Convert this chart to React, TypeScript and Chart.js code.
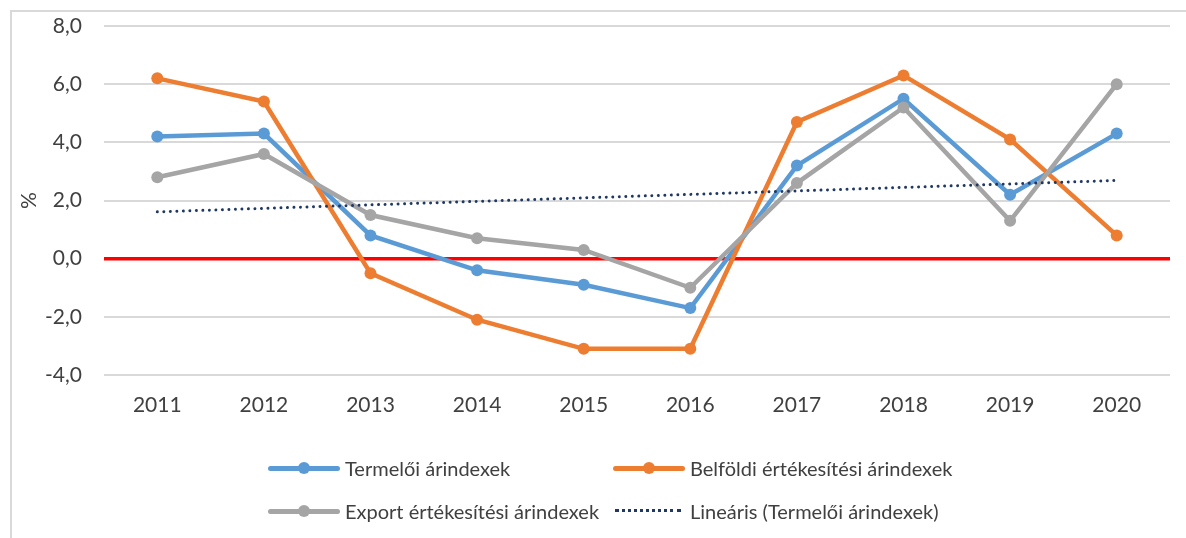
import React, { useEffect, useRef } from "react";
import { Chart, registerables } from "chart.js";

Chart.register(...registerables);

const years = ["2011", "2012", "2013", "2014", "2015", "2016", "2017", "2018", "2019", "2020"];
const termeloi = [4.2, 4.3, 0.8, -0.4, -0.9, -1.7, 3.2, 5.5, 2.2, 4.3];
const belfoldi = [6.2, 5.4, -0.5, -2.1, -3.1, -3.1, 4.7, 6.3, 4.1, 0.8];
const exportIdx = [2.8, 3.6, 1.5, 0.7, 0.3, -1.0, 2.6, 5.2, 1.3, 6.0];
const linearis = [1.61, 1.73, 1.85, 1.97, 2.09, 2.21, 2.33, 2.45, 2.57, 2.69];
const seriesNames = [
  "Termelői árindexek",
  "Belföldi értékesítési árindexek",
  "Export értékesítési árindexek",
  "Lineáris (Termelői árindexek)",
];
const yTitle = "%";

const BLUE = "#5B9BD5";
const ORANGE = "#ED7D31";
const GRAY = "#A5A5A5";
const NAVY = "#1F3864";
const FONT = "Lato, 'Open Sans', sans-serif";
const TEXT = "#404040";

function LegendItem(props: { name: string; color: string; left: number; top: number; dotted?: boolean }) {
  const { name, color, left, top, dotted } = props;
  return (
    <div style={{ position: "absolute", left, top: top - 12, height: 24, display: "flex", alignItems: "center" }}>
      <div style={{ position: "relative", width: 72, height: 24, marginRight: 5 }}>
        {dotted ? (
          <div style={{ position: "absolute", left: 2, right: 4, top: 10, borderTop: `3px dotted ${color}` }} />
        ) : (
          <>
            <div style={{ position: "absolute", left: 0, right: 0, top: 9.5, height: 5, borderRadius: 3, background: color }} />
            <div style={{ position: "absolute", left: 30, top: 6, width: 12, height: 12, borderRadius: 6, background: color }} />
          </>
        )}
      </div>
      <span style={{ fontFamily: FONT, fontSize: 20, color: TEXT, whiteSpace: "nowrap" }}>{name}</span>
    </div>
  );
}

export default function App() {
  const ref = useRef<HTMLCanvasElement | null>(null);

  useEffect(() => {
    if (!ref.current) return;
    const line = (label: string, data: number[], color: string, order: number) => ({
      label,
      data,
      borderColor: color,
      backgroundColor: color,
      borderWidth: 4.5,
      pointRadius: 6,
      pointBorderWidth: 0,
      pointBackgroundColor: color,
      tension: 0,
      order,
    });
    const chart = new Chart(ref.current, {
      type: "line",
      data: {
        labels: years,
        datasets: [
          line(seriesNames[0], termeloi, BLUE, 3),
          line(seriesNames[1], belfoldi, ORANGE, 2),
          line(seriesNames[2], exportIdx, GRAY, 1),
          {
            label: seriesNames[3],
            data: linearis,
            borderColor: NAVY,
            borderWidth: 3,
            borderDash: [0.01, 6.5],
            borderCapStyle: "round",
            pointRadius: 0,
            tension: 0,
            order: 0,
          } as any,
        ],
      },
      options: {
        animation: false,
        responsive: false,
        maintainAspectRatio: false,
        layout: { padding: { left: 10, right: 16, top: 26, bottom: 0 } },
        plugins: { legend: { display: false }, tooltip: { enabled: false } },
        scales: {
          x: {
            offset: true,
            grid: { display: false, drawTicks: false },
            border: { display: false },
            ticks: { color: TEXT, font: { family: FONT, size: 21 }, padding: 18, maxRotation: 0 },
            afterFit: (s: any) => {
              s.height = 163;
            },
          },
          y: {
            min: -4,
            max: 8,
            ticks: {
              stepSize: 2,
              color: TEXT,
              padding: 0,
              font: { family: FONT, size: 21 },
              callback: (v: any) => Number(v).toFixed(1).replace(".", ","),
            },
            grid: {
              drawTicks: true,
              tickLength: 22,
              tickColor: "rgba(0,0,0,0)",
              color: (c: any) => (c.tick && c.tick.value === 0 ? "#FF0000" : "#D9D9D9"),
              lineWidth: (c: any) => (c.tick && c.tick.value === 0 ? 3.5 : 2),
            },
            border: { display: false },
            title: {
              display: true,
              text: yTitle,
              color: TEXT,
              font: { family: FONT, size: 21 },
              padding: { top: 7, bottom: 0 },
            },
            afterFit: (s: any) => {
              s.width = 94;
            },
          },
        },
      },
    });
    return () => chart.destroy();
  }, []);

  return (
    <div style={{ position: "absolute", left: 0, top: 0, width: 1186, height: 538, overflow: "hidden", background: "#fff" }}>
      <div
        style={{
          position: "absolute",
          left: 10,
          top: 10,
          width: 1200,
          height: 560,
          borderLeft: "2px solid #D9D9D9",
          borderTop: "2px solid #D9D9D9",
        }}
      />
      <canvas ref={ref} width={1186} height={538} style={{ position: "absolute", left: 0, top: 0 }} />
      <LegendItem name={seriesNames[0]} color={BLUE} left={268} top={468} />
      <LegendItem name={seriesNames[1]} color={ORANGE} left={613} top={468} />
      <LegendItem name={seriesNames[2]} color={GRAY} left={268} top={511} />
      <LegendItem name={seriesNames[3]} color={NAVY} left={613} top={511} dotted />
    </div>
  );
}
